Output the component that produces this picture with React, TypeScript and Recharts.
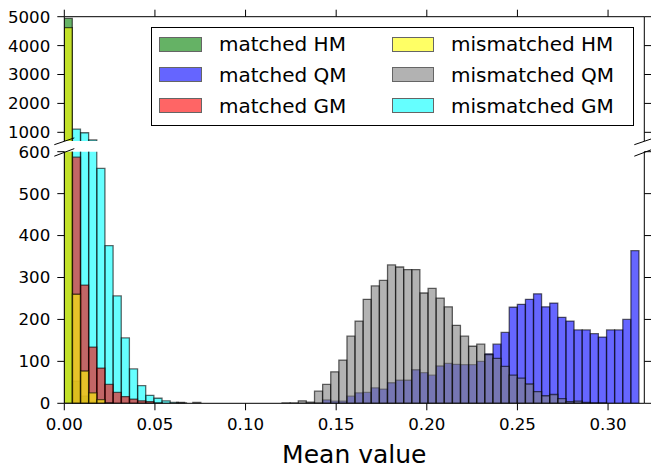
import React from 'react';
import { ComposedChart, Bar, XAxis, YAxis, Legend, Label } from 'recharts';

const FONT = '"DejaVu Sans", Verdana, sans-serif';

// ---- axes ----
const X_DOMAIN: [number, number] = [0, 0.32];
const X_TICKS = [0, 0.05, 0.1, 0.15, 0.2, 0.25, 0.3];
const TOP_Y_DOMAIN: [number, number] = [700, 5000];
const TOP_Y_TICKS = [1000, 2000, 3000, 4000, 5000];
const BOTTOM_Y_DOMAIN: [number, number] = [0, 600];
const BOTTOM_Y_TICKS = [0, 100, 200, 300, 400, 500, 600];

// ---- histogram bin grids (first bin left edge, bin width) ----
const LOW_BIN_START = 0;
const LOW_BIN_WIDTH = 0.0045;
const QM_BIN_WIDTH = 0.004476;
const MISMATCHED_QM_START = 0.06196;
const MATCHED_QM_START = 0.1291;

// ---- counts per bin ----
const matchedHM = [4940, 53, 17, 3];
const mismatchedHM = [4620, 260, 77, 25, 9, 1];
const matchedGM = [0, 587, 282, 134, 84, 45, 26, 16, 10, 6, 4, 1];
const mismatchedGM = [0, 1114, 986, 734, 560, 376, 256, 156, 82, 42, 19, 12, 6, 2, 1];
const mismatchedQM = [
  2, 0, 2, 0, 0, 0, 0, 0, 0, 0, 0, 0, 0, 1, 1,
  6, 3, 29, 45, 75, 103, 160, 196, 248, 280, 293, 330, 325, 319, 319, 263, 274, 251, 230,
  186, 160, 136, 141, 116, 107, 88, 67, 60, 46, 28, 18, 21, 11, 4, 5, 2, 1, 1,
];
const matchedQM = [
  0, 0, 1, 8, 5, 5, 17, 25, 26, 37, 34, 49, 55, 55, 80, 73, 67, 89, 95, 93, 92, 92, 100,
  118, 141, 169, 229, 236, 248, 261, 230, 239, 205, 196, 175, 175, 166, 158, 175, 175, 200, 364,
];

type Series = { key: string; name: string; color: string; start: number; width: number; counts: number[] };

// drawing order (bottom to top)
const SERIES: Series[] = [
  { key: 'mHM', name: 'matched HM', color: '#008000', start: LOW_BIN_START, width: LOW_BIN_WIDTH, counts: matchedHM },
  { key: 'mQM', name: 'matched QM', color: '#0000ff', start: MATCHED_QM_START, width: QM_BIN_WIDTH, counts: matchedQM },
  { key: 'xGM', name: 'mismatched GM', color: '#00ffff', start: LOW_BIN_START, width: LOW_BIN_WIDTH, counts: mismatchedGM },
  { key: 'mGM', name: 'matched GM', color: '#ff0000', start: LOW_BIN_START, width: LOW_BIN_WIDTH, counts: matchedGM },
  { key: 'xHM', name: 'mismatched HM', color: '#ffff00', start: LOW_BIN_START, width: LOW_BIN_WIDTH, counts: mismatchedHM },
  { key: 'xQM', name: 'mismatched QM', color: '#808080', start: MISMATCHED_QM_START, width: QM_BIN_WIDTH, counts: mismatchedQM },
];
const LEGEND_ORDER = ['mHM', 'mQM', 'mGM', 'xHM', 'xQM', 'xGM'];

const ROW_COUNT = Math.max(...SERIES.map((s) => s.counts.length));
const ROWS = Array.from({ length: ROW_COUNT }, (_, i) => {
  const row: Record<string, number> = {};
  SERIES.forEach((s) => {
    row['x_' + s.key] = s.start + (i + 0.5) * s.width;
    row[s.key] = s.counts[i] ?? 0;
  });
  return row;
});

const tickStyle = { fill: '#000', fontSize: 16.67, fontFamily: FONT };

const LegendBox = () => (
  <div
    style={{
      position: 'relative',
      width: 483.3,
      height: 99.3,
      border: '1px solid #000',
      boxSizing: 'border-box',
      background: '#fff',
      fontFamily: FONT,
      fontSize: 20,
      color: '#000',
    }}
  >
    {LEGEND_ORDER.map((key, i) => {
      const s = SERIES.find((d) => d.key === key)!;
      const col = Math.floor(i / 3);
      const row = i % 3;
      const cy = 16.5 + row * 30.8;
      return (
        <React.Fragment key={key}>
          <div
            style={{
              position: 'absolute',
              left: 7.3 + col * 232.4,
              top: cy - 7.5,
              width: 42.4,
              height: 15,
              background: s.color,
              border: '1.3px solid #000',
              boxSizing: 'border-box',
              opacity: 0.6,
            }}
          />
          <div
            style={{
              position: 'absolute',
              left: 67 + col * 232,
              top: cy - 15,
              height: 30,
              lineHeight: '30px',
              whiteSpace: 'nowrap',
            }}
          >
            {s.name}
          </div>
        </React.Fragment>
      );
    })}
  </div>
);

function Panel({ top }: { top: boolean }) {
  const yDomain = top ? TOP_Y_DOMAIN : BOTTOM_Y_DOMAIN;
  const yTicks = top ? TOP_Y_TICKS : BOTTOM_Y_TICKS;
  const margin = top
    ? { top: 6.7, right: 1.7, bottom: 330, left: 4.3 }
    : { top: 151.7, right: 1.7, bottom: 0, left: 4.3 };
  return (
    <ComposedChart width={651} height={471} data={ROWS} margin={margin} barCategoryGap={0} barGap={0}>
      {top ? (
        <XAxis
          xAxisId="main"
          orientation="top"
          dataKey="x_mHM"
          type="number"
          domain={X_DOMAIN}
          allowDataOverflow
          ticks={X_TICKS}
          interval={0}
          height={10}
          tickSize={7}
          tickFormatter={() => ''}
          axisLine={{ stroke: '#000' }}
          tickLine={{ stroke: '#000' }}
          tick={tickStyle}
        />
      ) : (
        <XAxis
          xAxisId="main"
          orientation="bottom"
          dataKey="x_mHM"
          type="number"
          domain={X_DOMAIN}
          allowDataOverflow
          ticks={X_TICKS}
          interval={0}
          height={67.7}
          tickSize={7}
          tickMargin={7.4}
          tickFormatter={(v: number) => v.toFixed(2)}
          axisLine={{ stroke: '#000' }}
          tickLine={{ stroke: '#000' }}
          tick={tickStyle}
        >
          <Label
            value="Mean value"
            position="insideBottom"
            offset={8.5}
            style={{ fill: '#000', fontSize: 25, fontFamily: FONT }}
          />
        </XAxis>
      )}
      {SERIES.map((s) => (
        <XAxis
          key={'ax' + s.key}
          xAxisId={s.key}
          orientation={top ? 'bottom' : 'top'}
          height={0}
          dataKey={'x_' + s.key}
          type="number"
          domain={X_DOMAIN}
          allowDataOverflow
          hide
        />
      ))}
      <YAxis
        yAxisId="left"
        type="number"
        domain={yDomain}
        ticks={yTicks}
        allowDataOverflow
        interval={0}
        width={60}
        tickSize={7}
        tickMargin={7}
        stroke="#000"
        axisLine={{ stroke: '#000' }}
        tickLine={{ stroke: '#000' }}
        tick={tickStyle}
      />
      <YAxis
        yAxisId="right"
        orientation="right"
        type="number"
        domain={yDomain}
        ticks={yTicks}
        allowDataOverflow
        interval={0}
        width={5}
        tickSize={7}
        tickFormatter={() => ''}
        axisLine={{ stroke: '#000' }}
        tickLine={{ stroke: '#000' }}
        tick={tickStyle}
      />
      {SERIES.map((s) => (
        <Bar
          key={s.key}
          name={s.name}
          xAxisId={s.key}
          yAxisId="left"
          dataKey={(r: Record<string, number>) => [0, r[s.key]]}
          fill={s.color}
          fillOpacity={0.6}
          stroke="#000"
          strokeOpacity={0.6}
          strokeWidth={1.3}
          isAnimationActive={false}
        />
      ))}
      {top && (
        <Legend
          layout="horizontal"
          verticalAlign="middle"
          align="center"
          wrapperStyle={{ left: 151, top: 26.7, width: 483.3, height: 99.3 }}
          content={() => <LegendBox />}
        />
      )}
    </ComposedChart>
  );
}

const BREAKS: [number, number][] = [
  [141.3, 3.4],
  [152.4, 3.8],
];
const SPINES = [64.3, 644.3];

export default function App() {
  return (
    <div style={{ position: 'absolute', left: 0, top: 0, width: 651, height: 471, background: '#fff' }}>
      <div style={{ position: 'absolute', left: 0, top: 0 }}>
        <Panel top={false} />
      </div>
      <div style={{ position: 'absolute', left: 0, top: 0 }}>
        <Panel top={true} />
      </div>
      <svg width={651} height={471} style={{ position: 'absolute', left: 0, top: 0, pointerEvents: 'none' }}>
        {SPINES.map((x) =>
          BREAKS.map(([y, dy]) => (
            <line key={x + '-' + y} x1={x - 10} y1={y + dy} x2={x + 10} y2={y - dy} stroke="#000" strokeWidth={1} />
          ))
        )}
      </svg>
    </div>
  );
}
